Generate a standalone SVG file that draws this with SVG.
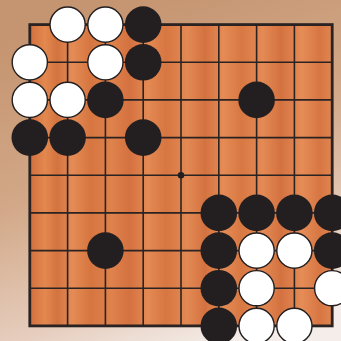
<svg xmlns="http://www.w3.org/2000/svg" width="341" height="341" viewBox="0 0 341 341">
<defs>
<linearGradient id="bg" gradientUnits="userSpaceOnUse" x1="110" y1="0" x2="230" y2="341">
<stop offset="0" stop-color="#c59470"/>
<stop offset="0.45" stop-color="#d2a888"/>
<stop offset="0.8" stop-color="#e6cdbd"/>
<stop offset="1" stop-color="#f4ede9"/>
</linearGradient>
<linearGradient id="wood" gradientUnits="userSpaceOnUse" x1="30" y1="0" x2="332" y2="0">
<stop offset="0" stop-color="#d2703f"/>
<stop offset="0.05" stop-color="#e3884f"/>
<stop offset="0.09" stop-color="#d3733f"/>
<stop offset="0.14" stop-color="#e58c56"/>
<stop offset="0.2" stop-color="#d6753f"/>
<stop offset="0.27" stop-color="#df824c"/>
<stop offset="0.33" stop-color="#d47140"/>
<stop offset="0.39" stop-color="#e48a54"/>
<stop offset="0.45" stop-color="#d77641"/>
<stop offset="0.52" stop-color="#e38954"/>
<stop offset="0.58" stop-color="#d37240"/>
<stop offset="0.64" stop-color="#e58b55"/>
<stop offset="0.7" stop-color="#d87843"/>
<stop offset="0.77" stop-color="#e48a54"/>
<stop offset="0.83" stop-color="#d37240"/>
<stop offset="0.9" stop-color="#e58c57"/>
<stop offset="0.96" stop-color="#d77643"/>
<stop offset="1" stop-color="#e08650"/>
</linearGradient>
</defs>
<style>
.ln{stroke:#2a2322;stroke-width:1.6;fill:none}
.bd{stroke:#2a2322;stroke-width:2.8;fill:url(#wood)}
.b{fill:#231f20}
.w{fill:#ffffff;stroke:#231f20;stroke-width:1.4}
</style>
<rect x="0" y="0" width="341" height="341" fill="url(#bg)"/>
<g id="board">
<rect class="bd" x="29.8" y="24.6" width="302.4" height="301.3"/>
</g>
<g id="grid">
<path class="ln" d="M67.6 24.6V325.9M105.4 24.6V325.9M143.2 24.6V325.9M181 24.6V325.9M218.8 24.6V325.9M256.6 24.6V325.9M294.4 24.6V325.9M29.8 62.3H332.2M29.8 99.9H332.2M29.8 137.6H332.2M29.8 175.2H332.2M29.8 212.9H332.2M29.8 250.6H332.2M29.8 288.2H332.2"/>
<circle cx="181" cy="175.2" r="3.3" fill="#231f20"/>
</g>
<g id="black-stones">
<circle class="b" cx="143.2" cy="24.6" r="18.3"/>
<circle class="b" cx="143.2" cy="62.3" r="18.3"/>
<circle class="b" cx="105.4" cy="99.9" r="18.3"/>
<circle class="b" cx="256.6" cy="99.9" r="18.3"/>
<circle class="b" cx="29.8" cy="137.6" r="18.3"/>
<circle class="b" cx="67.6" cy="137.6" r="18.3"/>
<circle class="b" cx="143.2" cy="137.6" r="18.3"/>
<circle class="b" cx="218.8" cy="212.9" r="18.3"/>
<circle class="b" cx="256.6" cy="212.9" r="18.3"/>
<circle class="b" cx="294.4" cy="212.9" r="18.3"/>
<circle class="b" cx="332.2" cy="212.9" r="18.3"/>
<circle class="b" cx="105.4" cy="250.6" r="18.3"/>
<circle class="b" cx="218.8" cy="250.6" r="18.3"/>
<circle class="b" cx="332.2" cy="250.6" r="18.3"/>
<circle class="b" cx="218.8" cy="288.2" r="18.3"/>
<circle class="b" cx="218.8" cy="325.9" r="18.3"/>
</g>
<g id="white-stones">
<circle class="w" cx="67.6" cy="24.6" r="17.6"/>
<circle class="w" cx="105.4" cy="24.6" r="17.6"/>
<circle class="w" cx="29.8" cy="62.3" r="17.6"/>
<circle class="w" cx="105.4" cy="62.3" r="17.6"/>
<circle class="w" cx="29.8" cy="99.9" r="17.6"/>
<circle class="w" cx="67.6" cy="99.9" r="17.6"/>
<circle class="w" cx="256.6" cy="250.6" r="17.6"/>
<circle class="w" cx="294.4" cy="250.6" r="17.6"/>
<circle class="w" cx="256.6" cy="288.2" r="17.6"/>
<circle class="w" cx="332.2" cy="288.2" r="17.6"/>
<circle class="w" cx="256.6" cy="325.9" r="17.6"/>
<circle class="w" cx="294.4" cy="325.9" r="17.6"/>
</g>
</svg>
